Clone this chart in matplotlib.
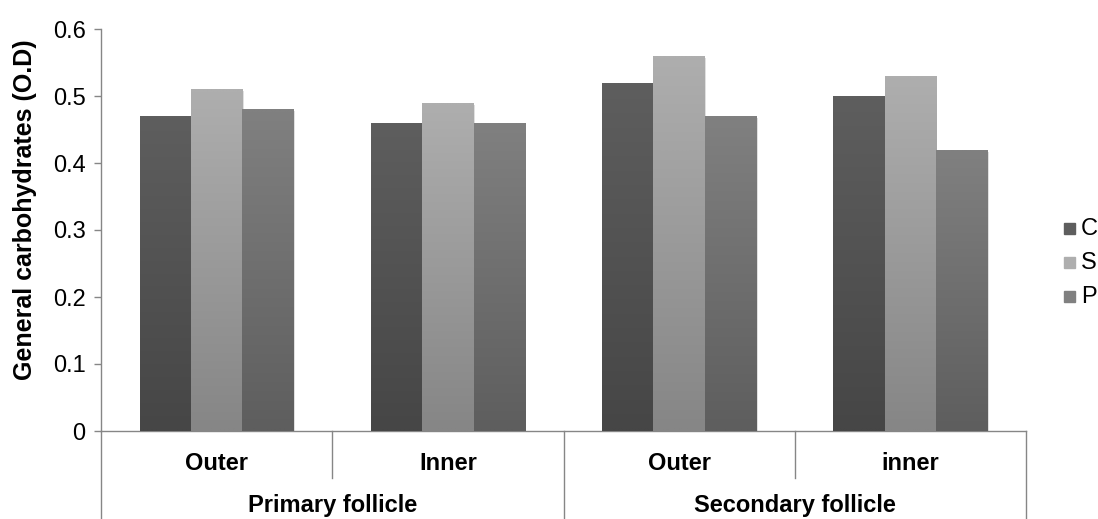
import numpy as np
import matplotlib.pyplot as plt
from matplotlib.patches import Rectangle
from matplotlib.transforms import blended_transform_factory

plt.rcParams['font.family'] = ['Liberation Sans', 'DejaVu Sans']

# values (O.D)
subgroups = ["Outer", "Inner", "Outer", "inner"]
groups = ["Primary follicle", "Secondary follicle"]
series_names = ["C", "S", "P"]
c_vals = [0.47, 0.46, 0.52, 0.50]
s_vals = [0.51, 0.49, 0.56, 0.53]
p_vals = [0.48, 0.46, 0.47, 0.42]

# (bottom colour, top colour) for each series gradient
grads = [("#464646", "#5e5e5e"), ("#868686", "#aeaeae"), ("#5e5e5e", "#808080")]

fig = plt.figure(figsize=(10.98, 5.19), dpi=100)
ax = fig.add_axes([101 / 1098, 1 - 431 / 519, 925 / 1098, 402 / 519])

n = len(subgroups)
bw = 1 / 4.5
x = np.arange(n) + 0.5


def hex2rgb(h):
    h = h.lstrip("#")
    return np.array([int(h[i:i + 2], 16) / 255 for i in (0, 2, 4)])


for i, vals in enumerate([c_vals, s_vals, p_vals]):
    lo, hi = hex2rgb(grads[i][0]), hex2rgb(grads[i][1])
    ramp = np.linspace(0, 1, 64)[:, None]
    img = (lo[None, :] * (1 - ramp) + hi[None, :] * ramp)[:, None, :]
    bars = ax.bar(x + (i - 1) * bw, vals, bw, color=grads[i][0], linewidth=0, zorder=2)
    for b in bars:
        x0, w, h = b.get_x(), b.get_width(), b.get_height()
        # soft shadow
        ax.add_patch(Rectangle((x0 + 0.006, -0.003), w, h, color="black", alpha=0.12,
                               lw=0, zorder=1))
        im = ax.imshow(img, extent=(x0, x0 + w, 0, h), origin="lower",
                       aspect="auto", zorder=3, interpolation="bilinear")
        im.set_clip_path(b)

ax.set_xlim(0, n)
ax.set_ylim(0, 0.6)
ax.set_yticks(np.arange(0, 0.61, 0.1))
ax.set_yticklabels(["0", "0.1", "0.2", "0.3", "0.4", "0.5", "0.6"])
ax.tick_params(axis="y", length=5, width=1, color="#868686", labelsize=17, pad=6)
ax.set_xticks([])
for s in ["top", "right"]:
    ax.spines[s].set_visible(False)
for s in ["left", "bottom"]:
    ax.spines[s].set_color("#868686")
    ax.spines[s].set_linewidth(1)

# two-level category axis
tr = blended_transform_factory(ax.transData, ax.transAxes)
for k in range(n + 1):
    y_end = -0.117 if k in (1, 3) else -0.3
    ax.plot([k, k], [0, y_end], color="#868686", lw=1, transform=tr, clip_on=False)
for xi, lab in zip(x, subgroups):
    ax.text(xi, -0.08, lab, transform=tr, ha="center", va="center",
            fontsize=17, fontweight="bold")
for j, g in enumerate(groups):
    ax.text(2 * j + 1, -0.185, g, transform=tr, ha="center", va="center",
            fontsize=17, fontweight="bold")

fig.text(25 / 1098, 1 - 210 / 519, "General carbohydrates (O.D)", rotation=90,
         ha="center", va="center", fontsize=18, fontweight="bold")

# legend
for i, name in enumerate(series_names):
    yc = 1 - (229 + 34 * i) / 519
    fig.patches.append(Rectangle((1064 / 1098, yc - 5 / 519), 11 / 1098, 11 / 519,
                                 transform=fig.transFigure, color=grads[i][1],
                                 figure=fig))
    fig.text(1081 / 1098, yc, name, ha="left", va="center", fontsize=17)

fig.savefig("out.png", dpi=100)
